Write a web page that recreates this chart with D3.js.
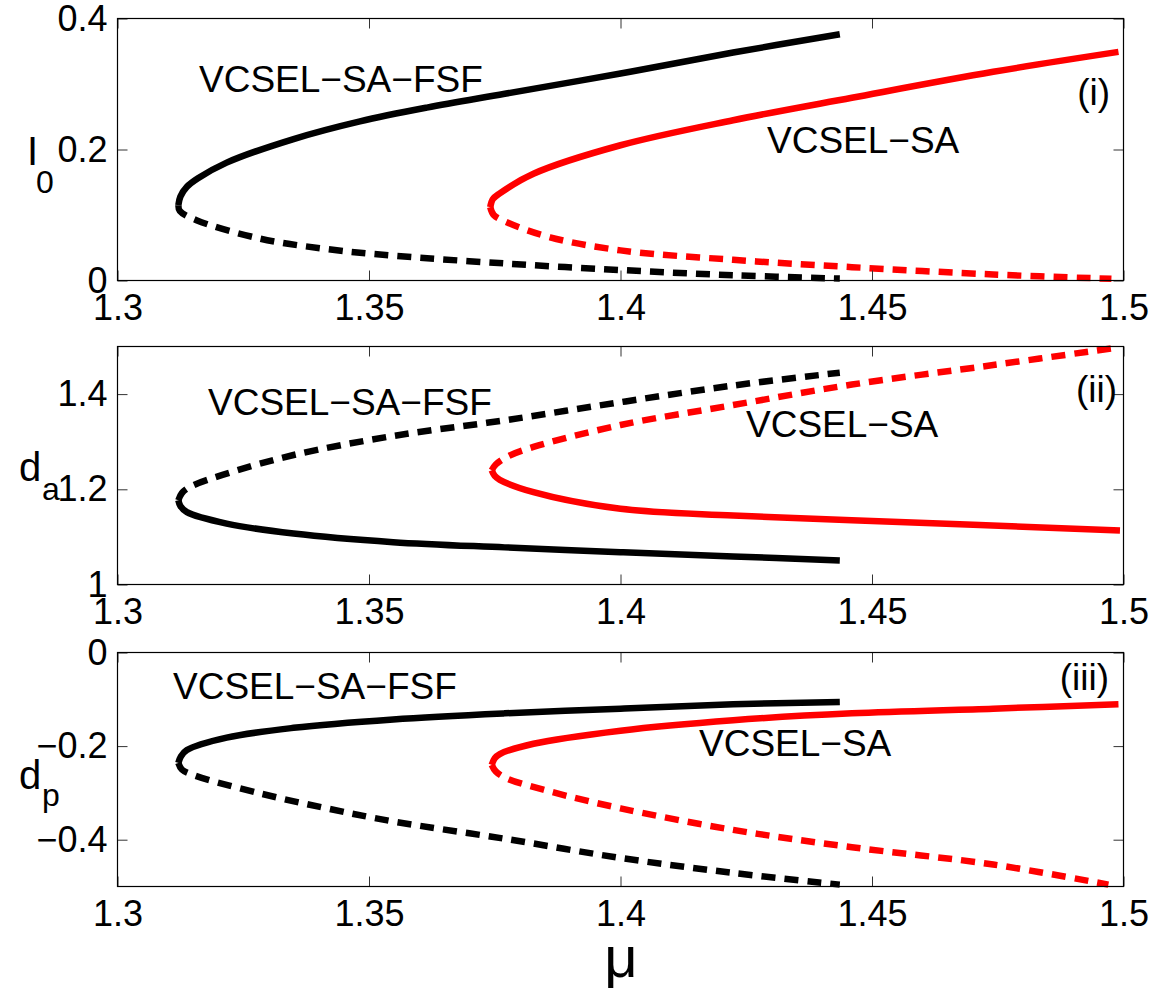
<!DOCTYPE html>
<html>
<head>
<meta charset="utf-8">
<script src="https://cdn.jsdelivr.net/npm/d3@7/dist/d3.min.js"></script>
<style>
  html, body { margin: 0; padding: 0; background: #fff; }
  svg { display: block; }
  text { font-family: "Liberation Sans", Arial, Helvetica, sans-serif; fill: #000; }
</style>
</head>
<body>
<svg id="chart" width="1165" height="993"></svg>
<script>
// Pump parameter mu on the shared horizontal axis
const muTicks = [1.3, 1.35, 1.4, 1.45, 1.5];

// Panel (i): steady-state intensity I0 — [mu, I0], each branch starts at the fold
const I0_fsfStable   = [[1.3121,0.115],[1.3125,0.128],[1.3138,0.143],[1.3160,0.156],[1.3217,0.180],[1.335,0.216],[1.3482,0.243],[1.3615,0.264],[1.377,0.285],[1.40,0.316],[1.4224,0.348],[1.4436,0.376]];
const I0_fsfUnstable = [[1.3121,0.115],[1.3124,0.106],[1.3157,0.092],[1.3283,0.064],[1.3416,0.048],[1.3548,0.038],[1.377,0.026],[1.40,0.016],[1.4224,0.008],[1.4436,0.003]];
const I0_saStable    = [[1.3741,0.112],[1.3746,0.124],[1.376,0.133],[1.3827,0.163],[1.40,0.2065],[1.4224,0.2447],[1.446,0.279],[1.4741,0.3186],[1.499,0.349]];
const I0_saUnstable  = [[1.3741,0.112],[1.3748,0.100],[1.3774,0.089],[1.386,0.066],[1.40,0.046],[1.4224,0.0316],[1.446,0.0204],[1.4741,0.0092],[1.4976,0.0026]];
const I0_ticks = [0, 0.2, 0.4];

// Panel (ii): absorber carrier density d_a
const da_fsfStable   = [[1.3121,1.177],[1.3125,1.165],[1.3138,1.152],[1.3217,1.128],[1.335,1.107],[1.3548,1.089],[1.377,1.078],[1.40,1.068],[1.4224,1.059],[1.4436,1.0505]];
const da_fsfUnstable = [[1.3121,1.177],[1.3128,1.192],[1.3144,1.205],[1.3217,1.233],[1.335,1.272],[1.3548,1.312],[1.377,1.345],[1.40,1.383],[1.4224,1.418],[1.4436,1.445]];
const da_saStable    = [[1.3744,1.240],[1.3750,1.228],[1.376,1.220],[1.3827,1.194],[1.40,1.159],[1.4224,1.145],[1.446,1.135],[1.4993,1.1137]];
const da_saUnstable  = [[1.3744,1.240],[1.3752,1.252],[1.3774,1.268],[1.3827,1.289],[1.40,1.335],[1.4224,1.377],[1.446,1.420],[1.4741,1.461],[1.4976,1.496]];
const da_ticks = [1, 1.2, 1.4];

// Panel (iii): gain carrier density d_p
const dp_fsfStable   = [[1.3121,-0.236],[1.3126,-0.222],[1.3138,-0.2085],[1.3217,-0.182],[1.335,-0.161],[1.3548,-0.143],[1.377,-0.130],[1.40,-0.120],[1.4224,-0.1106],[1.4436,-0.1057]];
const dp_fsfUnstable = [[1.3121,-0.236],[1.3128,-0.250],[1.3151,-0.262],[1.3283,-0.301],[1.3416,-0.333],[1.3548,-0.361],[1.377,-0.398],[1.40,-0.439],[1.4224,-0.471],[1.4436,-0.496]];
const dp_saStable    = [[1.3744,-0.240],[1.3750,-0.226],[1.376,-0.217],[1.3827,-0.195],[1.40,-0.167],[1.4224,-0.1447],[1.446,-0.130],[1.4741,-0.120],[1.499,-0.1106]];
const dp_saUnstable  = [[1.3744,-0.240],[1.3752,-0.254],[1.3774,-0.269],[1.386,-0.297],[1.40,-0.333],[1.4224,-0.379],[1.446,-0.416],[1.4741,-0.453],[1.497,-0.496]];
const dp_ticks = [-0.4, -0.2, 0];

const curveLabels = ["VCSEL\u2212SA\u2212FSF", "VCSEL\u2212SA"];

const svg = d3.select("#chart");
const FONT = 37;
const TICK_FONT = 36;

const x = d3.scaleLinear().domain([1.3, 1.5]).range([117.5, 1123.5]);
const fmt = d => (d < 0 ? "\u2212" : "") + String(Math.abs(+d.toFixed(4)));

const panels = [
  { top: 18.5, bottom: 280.5, domain: [0, 0.4], ticks: I0_ticks,
    series: [[I0_fsfStable, "#000", false], [I0_fsfUnstable, "#000", true], [I0_saStable, "#f00", false], [I0_saUnstable, "#f00", true]],
    labels: [[199, 92, curveLabels[0]], [767, 153, curveLabels[1]]],
    tag: [1110, 105, "(i)"] },
  { top: 346.5, bottom: 584.5, domain: [1, 1.5], ticks: da_ticks,
    series: [[da_fsfStable, "#000", false], [da_fsfUnstable, "#000", true], [da_saStable, "#f00", false], [da_saUnstable, "#f00", true]],
    labels: [[208, 415, curveLabels[0]], [746, 437, curveLabels[1]]],
    tag: [1117, 402, "(ii)"] },
  { top: 652.5, bottom: 886.5, domain: [-0.5, 0], ticks: dp_ticks,
    series: [[dp_fsfStable, "#000", false], [dp_fsfUnstable, "#000", true], [dp_saStable, "#f00", false], [dp_saUnstable, "#f00", true]],
    labels: [[173, 699, curveLabels[0]], [699, 756, curveLabels[1]]],
    tag: [1109, 690, "(iii)"] }
];

panels.forEach(p => {
  const y = d3.scaleLinear().domain(p.domain).range([p.bottom, p.top]);
  const g = svg.append("g");

  // curves (branches from the fold point outward)
  const line = d3.line().x(d => x(d[0])).y(d => y(d[1])).curve(d3.curveCatmullRom.alpha(0.5));
  p.series.forEach(([data, color, dashed]) => {
    g.append("path")
      .attr("d", line(data))
      .attr("fill", "none")
      .attr("stroke", color)
      .attr("stroke-width", 6.5)
      .attr("stroke-linejoin", "round")
      .attr("stroke-linecap", "butt")
      .attr("stroke-dasharray", dashed ? "14,9" : null);
  });

  // inward ticks on all four sides
  const bottomAxis = d3.axisBottom(x).tickValues(muTicks).tickSize(-10).tickSizeOuter(0).tickPadding(14).tickFormat(fmt);
  const topAxis = d3.axisTop(x).tickValues(muTicks).tickSize(-10).tickSizeOuter(0).tickFormat("");
  const leftAxis = d3.axisLeft(y).tickValues(p.ticks).tickSize(-10).tickSizeOuter(0).tickPadding(10).tickFormat(fmt);
  const rightAxis = d3.axisRight(y).tickValues(p.ticks).tickSize(-10).tickSizeOuter(0).tickFormat("");

  const axes = [
    [bottomAxis, `translate(0,${p.bottom})`, TICK_FONT],
    [topAxis, `translate(0,${p.top})`, 0],
    [leftAxis, `translate(${x.range()[0]},0)`, TICK_FONT],
    [rightAxis, `translate(${x.range()[1]},0)`, 0]
  ];
  axes.forEach(([ax, tr, fs]) => {
    const a = g.append("g").attr("transform", tr).call(ax);
    a.select(".domain").remove();
    a.selectAll(".tick line").attr("stroke", "#333").attr("stroke-width", 1);
    a.selectAll("text")
      .attr("font-size", fs)
      .attr("font-family", "'Liberation Sans', Arial, Helvetica, sans-serif")
      .attr("fill", "#000");
  });

  // frame
  g.append("rect")
    .attr("x", x.range()[0]).attr("y", p.top)
    .attr("width", x.range()[1] - x.range()[0]).attr("height", p.bottom - p.top)
    .attr("fill", "none").attr("stroke", "#000").attr("stroke-width", 1.2);

  // curve names and panel tag
  p.labels.forEach(([lx, ly, t]) => {
    g.append("text").attr("x", lx).attr("y", ly).attr("font-size", FONT).text(t);
  });
  g.append("text").attr("x", p.tag[0]).attr("y", p.tag[1]).attr("font-size", FONT)
    .attr("text-anchor", "end").text(p.tag[2]);
});

// vertical axis titles with subscripts
function subTitle(xMain, yMain, main, xSub, ySub, sub) {
  svg.append("text").attr("x", xMain).attr("y", yMain).attr("font-size", 40).text(main);
  svg.append("text").attr("x", xSub).attr("y", ySub).attr("font-size", 32).text(sub);
}
subTitle(27, 165, "I", 36, 193, "0");
subTitle(19, 481, "d", 42, 500, "a");
subTitle(19, 789, "d", 42, 806, "p");

// horizontal axis title
svg.append("text").attr("x", 621).attr("y", 977).attr("font-size", 58)
  .attr("text-anchor", "middle").text("\u03bc");
</script>
</body>
</html>
